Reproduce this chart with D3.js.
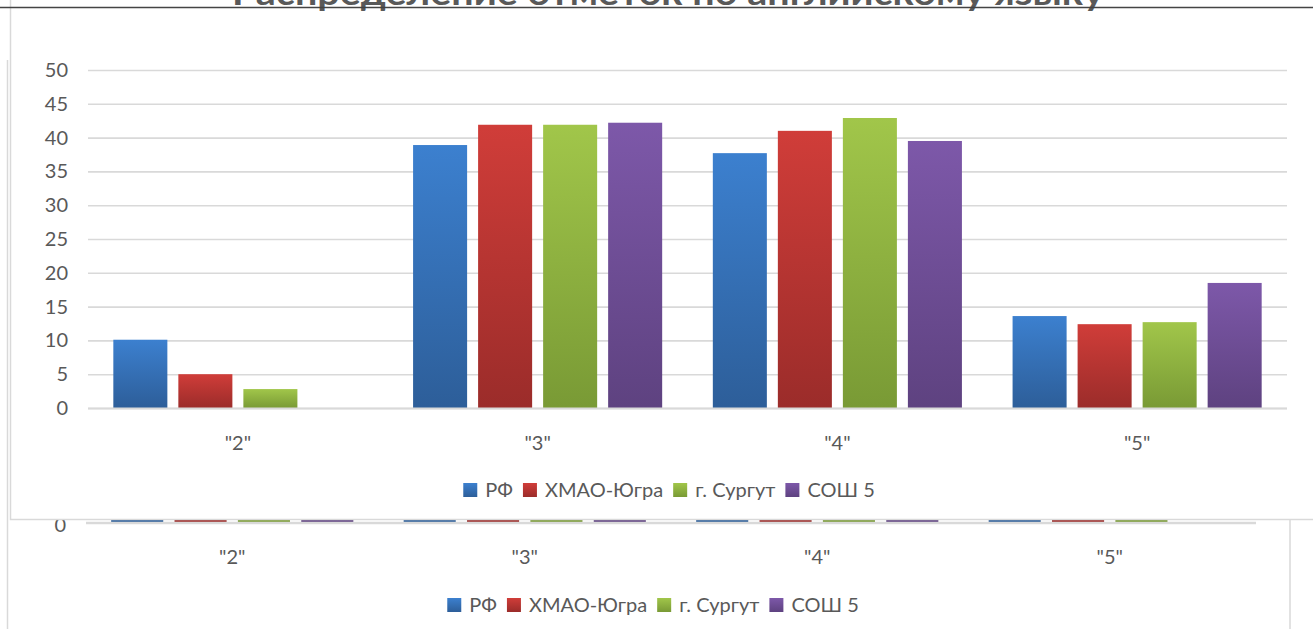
<!DOCTYPE html>
<html>
<head>
<meta charset="utf-8">
<script src="https://cdn.jsdelivr.net/npm/d3@7"></script>
<style>
  body { margin: 0; background: #fff; }
  svg { display: block; }
  text { font-family: Lato, "Open Sans", sans-serif; fill: #595959; }
</style>
</head>
<body>
<svg width="1313" height="629"></svg>
<script>
// data
const title = "Распределение отметок по английскому языку";
const categories = ['"2"', '"3"', '"4"', '"5"'];
const seriesNames = ["РФ", "ХМАО-Югра", "г. Сургут", "СОШ 5"];
const rf = [10.1, 38.9, 37.7, 13.6];
const hmao = [5.0, 41.9, 41.0, 12.4];
const surgut = [2.8, 41.9, 42.9, 12.7];
const sosh5 = [0, 42.2, 39.5, 18.5];
const yTicks = [0, 5, 10, 15, 20, 25, 30, 35, 40, 45, 50];

// the chart lying underneath (only its bottom strip shows)
const backRf = [9, 37, 39, 15];
const backHmao = [6, 40, 41, 13];
const backSurgut = [3, 41, 43, 12];
const backSosh5 = [4, 44, 38, 0];

const topColors = ["#3c80cf", "#d03d39", "#a1c64a", "#7d58a9"];
const bottomColors = ["#2d5e99", "#9b2c2a", "#799a35", "#5e4280"];
const fontSize = "20px";

const svg = d3.select("svg");
const defs = svg.append("defs");
topColors.forEach((c, i) => {
  const g = defs.append("linearGradient").attr("id", "grad" + i)
    .attr("x1", 0).attr("y1", 0).attr("x2", 0).attr("y2", 1);
  g.append("stop").attr("offset", "0%").attr("stop-color", c);
  g.append("stop").attr("offset", "100%").attr("stop-color", bottomColors[i]);
});

function rows(series) {
  return categories.map((c, ci) => ({cat: c, vals: series.map(s => s[ci])}));
}

function legend(g, cx, y) {
  const items = g.append("g");
  let x = 0;
  seriesNames.forEach((name, i) => {
    items.append("rect").attr("x", x).attr("y", y - 7).attr("width", 14).attr("height", 14)
      .attr("fill", "url(#grad" + i + ")");
    const t = items.append("text").attr("x", x + 22).attr("y", y).attr("dy", "0.35em")
      .style("font-size", fontSize).text(name);
    x += 22 + t.node().getComputedTextLength() + 10;
  });
  items.attr("transform", `translate(${cx - (x - 10) / 2},0)`);
}

function styleTicks(axis) {
  axis.selectAll("text").style("font-size", fontSize)
    .style("font-family", "Lato, 'Open Sans', sans-serif").attr("fill", "#595959");
}

// ---------- back chart ----------
const back = svg.append("g");
back.append("line").attr("x1", 7.5).attr("x2", 7.5).attr("y1", 60).attr("y2", 629)
  .attr("stroke", "#d9d9d9").attr("stroke-width", 1.5);
back.append("line").attr("x1", 1290).attr("x2", 1290).attr("y1", 519).attr("y2", 629)
  .attr("stroke", "#d9d9d9").attr("stroke-width", 1.5);

const bx0 = d3.scaleBand().domain(categories).range([86, 1256]).paddingInner(0.172).paddingOuter(0.086);
const bx1 = d3.scaleBand().domain(d3.range(4)).range([0, bx0.bandwidth()]).paddingInner(0.178);
const by = d3.scaleLinear().domain([0, 50]).range([522, 180]);

back.selectAll("g.bgrp").data(rows([backRf, backHmao, backSurgut, backSosh5])).join("g")
  .attr("class", "bgrp")
  .attr("transform", d => `translate(${bx0(d.cat)},0)`)
  .selectAll("rect").data(d => d.vals).join("rect")
  .attr("x", (v, i) => bx1(i)).attr("width", bx1.bandwidth())
  .attr("y", v => by(v)).attr("height", v => by(0) - by(v))
  .attr("fill", (v, i) => "url(#grad" + i + ")");
back.append("line").attr("x1", 86).attr("x2", 1256).attr("y1", 523).attr("y2", 523)
  .attr("stroke", "#d9d9d9").attr("stroke-width", 2.5);
back.append("text").attr("x", 66).attr("y", 525).attr("dy", "0.35em")
  .attr("text-anchor", "end").style("font-size", fontSize).text("0");
const bAxis = back.append("g").attr("transform", "translate(0,557)")
  .call(d3.axisBottom(bx0).tickSize(0).tickPadding(0));
bAxis.select(".domain").remove();
bAxis.selectAll("text").attr("dy", "0.35em");
styleTicks(bAxis);
legend(back, 653, 605);

// ---------- front chart ----------
const front = svg.append("g");
front.append("rect").attr("x", 10.5).attr("y", -5).attr("width", 1310).attr("height", 524.5)
  .attr("fill", "#fff").attr("stroke", "#d9d9d9").attr("stroke-width", 1.5);

const x0 = d3.scaleBand().domain(categories).range([88, 1287]).paddingInner(0.169).paddingOuter(0.0845);
const x1 = d3.scaleBand().domain(d3.range(4)).range([0, x0.bandwidth()]).paddingInner(0.169);
const y = d3.scaleLinear().domain([0, 50]).range([408, 70]);

const yAxis = front.append("g").attr("transform", "translate(88,0)")
  .call(d3.axisLeft(y).tickValues(yTicks).tickSize(-1199).tickPadding(20));
yAxis.select(".domain").remove();
yAxis.selectAll("line").attr("stroke", "#d9d9d9").attr("stroke-width", 1.6);
styleTicks(yAxis);

front.selectAll("g.grp").data(rows([rf, hmao, surgut, sosh5])).join("g")
  .attr("class", "grp")
  .attr("transform", d => `translate(${x0(d.cat)},0)`)
  .selectAll("rect").data(d => d.vals).join("rect")
  .attr("x", (v, i) => x1(i)).attr("width", x1.bandwidth())
  .attr("y", v => y(v)).attr("height", v => y(0) - y(v))
  .attr("fill", (v, i) => "url(#grad" + i + ")");
front.append("line").attr("x1", 88).attr("x2", 1287).attr("y1", 408.5).attr("y2", 408.5)
  .attr("stroke", "#d9d9d9").attr("stroke-width", 2);

const xAxis = front.append("g").attr("transform", "translate(0,443)")
  .call(d3.axisBottom(x0).tickSize(0).tickPadding(0));
xAxis.select(".domain").remove();
xAxis.selectAll("text").attr("dy", "0.35em");
styleTicks(xAxis);
legend(front, 669, 490);

// ---------- title strip on top (mostly cut off at the top edge) ----------
const head = svg.append("g");
head.append("text").attr("x", 668).attr("y", 5)
  .attr("text-anchor", "middle")
  .attr("textLength", 872).attr("lengthAdjust", "spacingAndGlyphs")
  .style("font-size", "34px").style("font-weight", "bold")
  .text(title);
head.append("line").attr("x1", 0).attr("x2", 1313).attr("y1", 7.5).attr("y2", 7.5)
  .attr("stroke", "#444").attr("stroke-width", 1.6);
</script>
</body>
</html>
